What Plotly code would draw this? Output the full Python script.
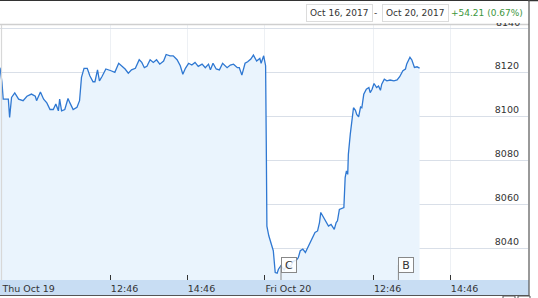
import plotly.graph_objects as go

# ---- data: minutes since chart start (compressed intraday axis), index level ----
minutes = [0, 3, 5, 13, 15, 18, 23, 29, 36, 42, 49, 55, 57, 63, 68, 73, 78, 83, 87, 91,
           93, 96, 101, 106, 109, 114, 120, 124, 127, 131, 136, 140, 145, 148, 152, 155,
           159, 165, 173, 179, 185, 190, 195, 200, 205, 211, 217, 221, 225, 229, 234,
           239, 244, 249, 255, 259, 265, 270, 276, 281, 285, 289, 294, 299, 304, 309,
           315, 320, 325, 328, 332, 337, 342, 347, 354, 359, 364, 370, 373, 377, 382,
           386, 391, 395, 400, 405, 407, 411, 413,
           414, 415, 416, 419, 422, 426, 429, 432, 434, 438, 443, 448, 452, 457, 462,
           465, 468, 472, 476, 481, 486, 491, 495, 498, 500, 504, 509, 512, 516, 519,
           521, 524, 526, 529, 533, 536, 538, 540, 542, 543, 546, 549, 551, 554, 556,
           559, 562, 564, 567, 571, 575, 577, 580, 583, 587, 590, 593, 595, 599, 603,
           608, 614, 619, 623, 628, 632, 634, 639, 642, 646, 650, 654]
prices = [8122, 8115.5, 8107.7, 8107.7, 8099.4, 8108.5, 8110.5, 8107.7, 8107, 8109,
          8110, 8109, 8107, 8111, 8107.7, 8106, 8103, 8103, 8105.5, 8102.4,
          8107.7, 8102.4, 8103, 8108, 8106, 8103, 8104, 8107, 8117.6, 8121.7,
          8121.7, 8118.3, 8115.6, 8115.6, 8121, 8116, 8118, 8121.4, 8120.6, 8119.9,
          8124, 8122.6, 8121.4, 8119.5, 8121, 8121.7, 8125.6, 8124.4, 8122, 8122.6,
          8125.6, 8124.4, 8125.6, 8123.6, 8125, 8128, 8127.4, 8127.4, 8125.6, 8122.9,
          8119, 8121.7, 8124, 8123.2, 8124.4, 8122.6, 8123.6, 8122, 8123.6, 8121,
          8124, 8121.4, 8121, 8124, 8122, 8123.2, 8123.6, 8122, 8122, 8118.6,
          8124, 8124.7, 8125.9, 8127.7, 8125, 8126.2, 8124, 8127.4, 8125,
          8122.9, 8089, 8050, 8045.6, 8042.6, 8038.8, 8028.9, 8028.6, 8030.4, 8032,
          8030, 8033, 8031, 8034, 8034.5, 8035.7, 8038.8, 8039.5, 8038, 8041,
          8044, 8047.1, 8047.8, 8051.6, 8056.2, 8053.9, 8051.6, 8050, 8050.8, 8049,
          8048.5, 8051.6, 8052.4, 8057.6, 8058.1, 8058.4, 8072, 8075.1, 8073.5, 8082.6,
          8091.8, 8098.5, 8103.8, 8102.6, 8100.8, 8099.6, 8104.1, 8103.8, 8109.9, 8112.2,
          8113, 8110.7, 8112.2, 8114.8, 8113, 8113.7, 8111.7, 8114.5, 8116.8, 8116,
          8116.4, 8116, 8116.4, 8117.9, 8120.6, 8121.4, 8123.7, 8126.7, 8125.5, 8122.1,
          8122.4, 8121.8]

tick_minutes = [3, 172, 292, 413, 582, 702]
tick_labels = ["Thu Oct 19", "12:46", "14:46", "Fri Oct 20", "12:46", "14:46"]
y_ticks = [8040, 8060, 8080, 8100, 8120, 8140]

flag_minutes = [438, 621]
flag_labels = ["C", "B"]

range_start = "Oct 16, 2017"
range_end = "Oct 20, 2017"
change_text = "+54.21 (0.67%)"

W, H = 538, 298
ML, MR, MT, MB = 0, 10, 25, 18
PW, PH = W - ML - MR, H - MT - MB


def py(pix):  # pixel row -> paper y
    return (H - MB - pix) / PH


def px(pix):  # pixel col -> paper x
    return (pix - ML) / PW


FONT = "DejaVu Sans"
TXT = "#333"

fig = go.Figure()
fig.add_trace(go.Scatter(
    x=minutes, y=prices, mode="lines",
    line=dict(color="#2f78d2", width=1.3),
    fill="tozeroy", fillcolor="#eaf4fd",
    hoverinfo="skip", showlegend=False,
))

shapes = []
# x-axis band below the plot
shapes.append(dict(type="rect", xref="paper", yref="paper", x0=px(0), x1=px(529),
                   y0=py(295), y1=py(280), fillcolor="#c8ddf3", line_width=0, layer="below"))
shapes.append(dict(type="line", xref="paper", yref="paper", x0=px(0), x1=px(529),
                   y0=py(295.5), y1=py(295.5), line=dict(color="#555", width=1.2)))
# top dark line and header separator
shapes.append(dict(type="line", xref="paper", yref="paper", x0=px(0), x1=px(538),
                   y0=py(0.5), y1=py(0.5), line=dict(color="#333", width=1.5)))
shapes.append(dict(type="line", xref="paper", yref="paper", x0=px(0), x1=px(529),
                   y0=py(24.5), y1=py(24.5), line=dict(color="#cfcfcf", width=1.5)))
# left and right borders
shapes.append(dict(type="line", xref="paper", yref="paper", x0=px(1.5), x1=px(1.5),
                   y0=py(280), y1=py(25), line=dict(color="#d8d8d8", width=1.2)))
shapes.append(dict(type="line", xref="paper", yref="paper", x0=px(529), x1=px(529),
                   y0=py(296), y1=py(0), line=dict(color="#555", width=1.2)))
# small scrollbar boxes at the bottom right
shapes.append(dict(type="rect", xref="paper", yref="paper", x0=px(503), x1=px(515),
                   y0=py(299), y1=py(296), line=dict(color="#555", width=1), fillcolor="white"))
shapes.append(dict(type="rect", xref="paper", yref="paper", x0=px(518), x1=px(530),
                   y0=py(299), y1=py(296), line=dict(color="#555", width=1), fillcolor="white"))

annotations = []
# flags
for fm, fl in zip(flag_minutes, flag_labels):
    shapes.append(dict(type="line", xref="x", yref="paper", x0=fm, x1=fm,
                       y0=py(280), y1=py(265), line=dict(color="#888", width=1)))
    annotations.append(dict(xref="x", yref="paper", x=fm, y=py(265), xanchor="left",
                            yanchor="middle", text=fl, showarrow=False,
                            font=dict(family=FONT, size=11, color=TXT),
                            bgcolor="rgba(255,255,255,0.85)", bordercolor="#888",
                            borderwidth=1, borderpad=1, width=12, height=12))

# top y label (partly hidden under the header)
annotations.append(dict(xref="paper", yref="y", x=px(522), y=y_ticks[-1], xanchor="right",
                        yanchor="middle", yshift=6, text=str(y_ticks[-1]), showarrow=False,
                        font=dict(family=FONT, size=9.5, color=TXT)))
# header cover
annotations.append(dict(xref="paper", yref="paper", x=px(0), y=py(1.2), xanchor="left",
                        yanchor="top", text=" ", showarrow=False, width=528, height=22,
                        bgcolor="white", borderpad=0, borderwidth=0))

# header boxes
annotations.append(dict(xref="paper", yref="paper", x=px(306), y=py(13), xanchor="left",
                        yanchor="middle", text=range_start, showarrow=False,
                        font=dict(family=FONT, size=9, color=TXT),
                        bordercolor="#dcdcdc", borderwidth=1, borderpad=3, bgcolor="white"))
annotations.append(dict(xref="paper", yref="paper", x=px(375), y=py(13), xanchor="center",
                        yanchor="middle", text="-", showarrow=False,
                        font=dict(family=FONT, size=9, color=TXT)))
annotations.append(dict(xref="paper", yref="paper", x=px(382), y=py(13), xanchor="left",
                        yanchor="middle", text=range_end, showarrow=False,
                        font=dict(family=FONT, size=9, color=TXT),
                        bordercolor="#dcdcdc", borderwidth=1, borderpad=3, bgcolor="white"))
annotations.append(dict(xref="paper", yref="paper", x=px(449), y=py(13), xanchor="left",
                        yanchor="middle", text=change_text, showarrow=False,
                        font=dict(family=FONT, size=9, color="#3c963c")))

fig.update_layout(
    width=W, height=H,
    margin=dict(l=ML, r=MR, t=MT, b=MB, pad=0),
    paper_bgcolor="white", plot_bgcolor="white",
    shapes=shapes, annotations=annotations,
    xaxis=dict(range=[0, 823], tickvals=tick_minutes, ticktext=tick_labels,
               ticks="inside", ticklen=5, tickcolor=TXT, tickwidth=1,
               ticklabelposition="outside right", ticklabelstandoff=1,
               showgrid=True, gridcolor="#edf0f4", gridwidth=1,
               zeroline=False, showline=False,
               tickfont=dict(family=FONT, size=9.5, color=TXT)),
    yaxis=dict(range=[8025.5, 8141.4], tickvals=y_ticks, side="right",
               ticklabelposition="inside", ticklabelshift=-6, ticklabelstandoff=6,
               showgrid=True, gridcolor="#d9dfe8", gridwidth=1,
               zeroline=False, showline=False, ticks="",
               tickfont=dict(family=FONT, size=9.5, color=TXT)),
)

fig.write_html("out.html")
